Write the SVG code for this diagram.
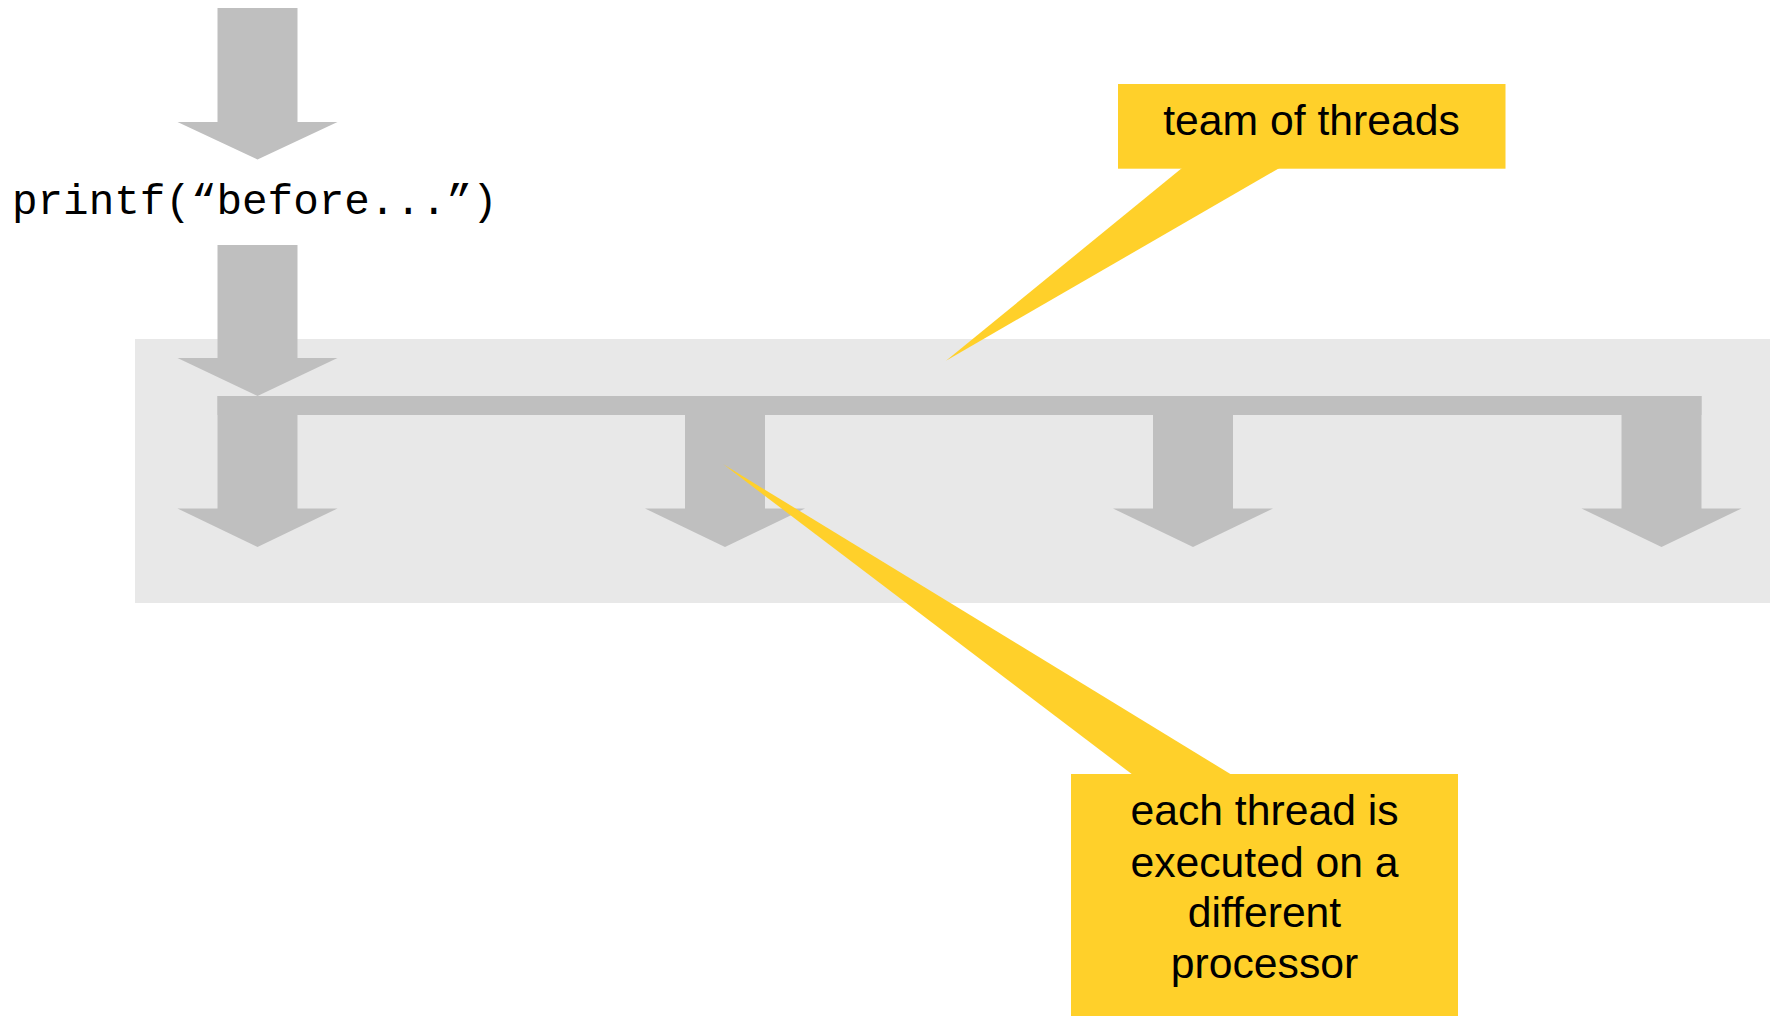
<svg xmlns="http://www.w3.org/2000/svg" width="1779" height="1016" viewBox="0 0 1779 1016">
  <style>
    .arrow { fill: #BFBFBF; }
    .callout { fill: #FFD02A; }
    .label { font-family: "Liberation Sans", Arial, sans-serif; font-size: 42.7px; fill: #000000; text-anchor: middle; }
    .code { font-family: "Liberation Mono", "Courier New", monospace; font-size: 42.6px; fill: #000000; }
  </style>
  <defs>
    <polygon id="threadArrow" points="-40,0 40,0 40,112.5 80,112.5 0,151 -80,112.5 -40,112.5"/>
  </defs>
  <rect width="1779" height="1016" fill="#FFFFFF"/>

  <g id="parallel-region">
    <rect x="135" y="339" width="1635" height="264" fill="#E8E8E8"/>
  </g>

  <g id="printf-node">
    <text class="code" x="12" y="214">printf(“before...”)</text>
  </g>

  <g id="connectors">
    <polygon class="arrow" points="217.5,8 297.5,8 297.5,122 337.5,122 257.5,159.5 177.5,122 217.5,122"/>
    <polygon class="arrow" points="217.5,245 297.5,245 297.5,358 337.5,358 257.5,396 177.5,358 217.5,358"/>
    <rect class="arrow" x="217.5" y="396" width="1484" height="19"/>
    <use href="#threadArrow" class="arrow" x="257.5" y="396"/>
    <use href="#threadArrow" class="arrow" x="725" y="396"/>
    <use href="#threadArrow" class="arrow" x="1193" y="396"/>
    <use href="#threadArrow" class="arrow" x="1661.5" y="396"/>
  </g>

  <g id="callout-team">
    <rect class="callout" x="1118" y="84" width="387.5" height="84.7"/>
    <polygon class="callout" points="1182,168 1279.5,168 946,360.7"/>
    <text class="label" x="1311.5" y="135">team of threads</text>
  </g>

  <g id="callout-processor">
    <rect class="callout" x="1071" y="774" width="387" height="242"/>
    <polygon class="callout" points="1133,775 1232,775 723.3,464.3"/>
    <text class="label" x="1264.5" y="825">each thread is</text>
    <text class="label" x="1264.5" y="876.5">executed on a</text>
    <text class="label" x="1264.5" y="927">different</text>
    <text class="label" x="1264.5" y="978">processor</text>
  </g>
</svg>
